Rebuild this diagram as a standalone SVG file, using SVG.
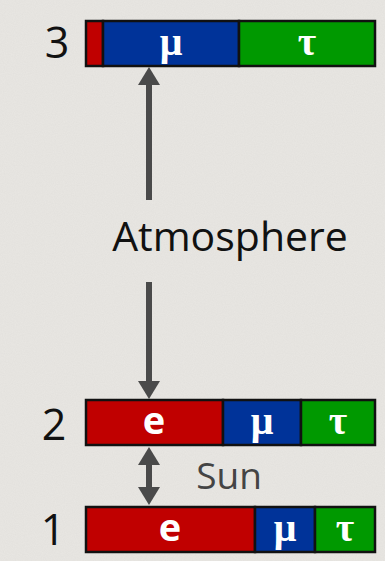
<svg xmlns="http://www.w3.org/2000/svg" width="385" height="561" viewBox="0 0 385 561">
  <style>
    .seg { stroke: #111; stroke-width: 2.5; }
    .e { fill: #c00000; }
    .mu { fill: #003399; }
    .tau { fill: #009900; }
    .flav { font-family: "Open Sans", "DejaVu Sans", sans-serif; font-weight: bold; font-size: 38px; fill: #fff; text-anchor: middle; }
    .greek { font-family: "Liberation Serif", "DejaVu Serif", serif; font-weight: bold; font-size: 40px; fill: #fff; text-anchor: middle; }
    .num { font-family: "Open Sans", "DejaVu Sans", sans-serif; font-size: 43px; fill: #111; text-anchor: middle; }
    .lbl { font-family: "Open Sans", "DejaVu Sans", sans-serif; }
    .shaft { stroke: #4a4a4a; stroke-width: 6; fill: none; }
  </style>
  <defs>
    <marker id="head" viewBox="0 0 18 22" refX="7" refY="11" markerWidth="18" markerHeight="22" orient="auto-start-reverse" markerUnits="userSpaceOnUse">
      <path d="M0,0 L18,11 L0,22 z" fill="#4a4a4a"/>
    </marker>
    <filter id="grain" x="0" y="0" width="100%" height="100%">
      <feTurbulence type="fractalNoise" baseFrequency="0.9" numOctaves="2" seed="3" result="n"/>
      <feColorMatrix in="n" type="matrix" values="0 0 0 0 0.55  0 0 0 0 0.54  0 0 0 0 0.52  0 0 0 0.18 0"/>
    </filter>
  </defs>

  <!-- paper background -->
  <rect width="385" height="561" fill="#e9e7e3"/>
  <rect width="385" height="561" filter="url(#grain)"/>

  <!-- connectors -->
  <g id="connectors">
    <line class="shaft" x1="149" y1="200" x2="149" y2="78" marker-end="url(#head)"/>
    <line class="shaft" x1="149" y1="282" x2="149" y2="388" marker-end="url(#head)"/>
    <line class="shaft" x1="149" y1="458" x2="149" y2="494" marker-start="url(#head)" marker-end="url(#head)"/>
  </g>

  <!-- mass state 3 -->
  <g id="state3">
    <text class="num" x="57" y="58">3</text>
    <rect class="seg e" x="86" y="21" width="17" height="45"/>
    <rect class="seg mu" x="103" y="21" width="136" height="45"/>
    <rect class="seg tau" x="239" y="21" width="136" height="45"/>
    <text class="greek" x="171" y="55">μ</text>
    <text class="greek" x="307" y="55">τ</text>
  </g>

  <!-- mass state 2 -->
  <g id="state2">
    <text class="num" x="54" y="440">2</text>
    <rect class="seg e" x="86" y="400" width="137" height="45"/>
    <rect class="seg mu" x="223" y="400" width="78" height="45"/>
    <rect class="seg tau" x="301" y="400" width="74" height="45"/>
    <text class="flav" x="154" y="434">e</text>
    <text class="greek" x="262" y="434">μ</text>
    <text class="greek" x="338" y="434">τ</text>
  </g>

  <!-- mass state 1 -->
  <g id="state1">
    <text class="num" x="53" y="545">1</text>
    <rect class="seg e" x="86" y="507" width="169" height="45"/>
    <rect class="seg mu" x="255" y="507" width="60" height="45"/>
    <rect class="seg tau" x="315" y="507" width="60" height="45"/>
    <text class="flav" x="170" y="541">e</text>
    <text class="greek" x="285" y="541">μ</text>
    <text class="greek" x="345" y="541">τ</text>
  </g>

  <!-- labels -->
  <g id="atmosphere">
    <text class="lbl" x="230" y="251" font-size="41" fill="#111" text-anchor="middle">Atmosphere</text>
  </g>
  <g id="sun">
    <text class="lbl" x="229" y="489" font-size="37" fill="#444" text-anchor="middle">Sun</text>
  </g>
</svg>
